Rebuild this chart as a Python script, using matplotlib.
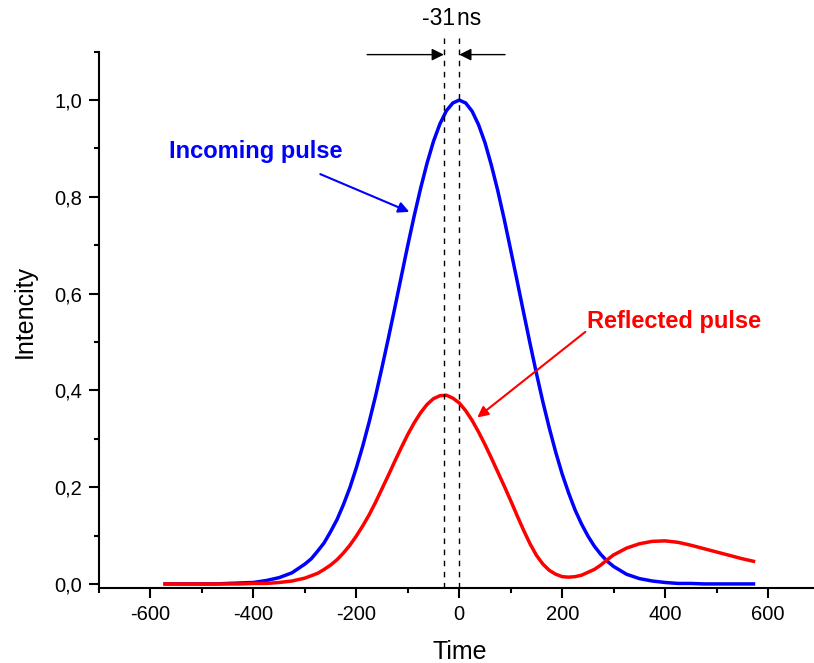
import numpy as np
import matplotlib
matplotlib.use('Agg')
import matplotlib.pyplot as plt
from matplotlib.ticker import MultipleLocator

plt.rcParams['font.family'] = ['Liberation Sans', 'DejaVu Sans']
plt.rcParams['axes.unicode_minus'] = False

# data (finer steps around the peaks)
time = ([-575, -550, -525, -500, -475, -450, -425, -400, -375, -350, -325]
        + [-300 + 12.5 * i for i in range(49)]
        + [325, 350, 375, 400, 425, 450, 475, 500, 525, 550, 575])

incoming = [0.000, 0.000, 0.000, 0.000, 0.000, 0.001, 0.002, 0.003, 0.007, 0.013, 0.023,
            0.041, 0.052, 0.068, 0.085, 0.108, 0.133, 0.164, 0.199, 0.240, 0.285,
            0.335, 0.389, 0.448, 0.509, 0.572, 0.636, 0.700, 0.761, 0.818, 0.870,
            0.915, 0.951, 0.978, 0.994, 1.000, 0.994, 0.977, 0.949, 0.912, 0.865,
            0.812, 0.753, 0.690, 0.626, 0.561, 0.497, 0.435, 0.376, 0.322, 0.272,
            0.227, 0.188, 0.153, 0.124, 0.099, 0.078, 0.061, 0.047, 0.036,
            0.020, 0.011, 0.006, 0.003, 0.001, 0.001, 0.000, 0.000, 0.000, 0.000, 0.000]

reflected = [0.000, 0.000, 0.000, 0.000, 0.000, 0.000, 0.000, 0.001, 0.001, 0.003, 0.006,
             0.012, 0.017, 0.022, 0.030, 0.039, 0.050, 0.064, 0.080, 0.099, 0.120,
             0.143, 0.169, 0.197, 0.225, 0.254, 0.282, 0.309, 0.333, 0.354, 0.371,
             0.383, 0.389, 0.390, 0.384, 0.374, 0.358, 0.338, 0.314, 0.288, 0.260,
             0.231, 0.202, 0.172, 0.141, 0.111, 0.083, 0.059, 0.041, 0.028, 0.020,
             0.015, 0.014, 0.015, 0.018, 0.024, 0.030, 0.039, 0.050, 0.060,
             0.074, 0.083, 0.088, 0.089, 0.086, 0.080, 0.073, 0.066, 0.059, 0.052, 0.046]

shift = -30          # reflected peak position
x_ticks = [-600, -400, -200, 0, 200, 400, 600]
y_ticks = [0.0, 0.2, 0.4, 0.6, 0.8, 1.0]
y_labels = ['0,0', '0,2', '0,4', '0,6', '0,8', '1,0']

fig = plt.figure(figsize=(8.14, 6.63), dpi=100)
ax = fig.add_axes([0.1216, 0.1127, 0.8852, 0.8093])

ax.plot(time, incoming, color='#0000ff', lw=2.5, solid_capstyle='butt')
ax.plot(time, reflected, color='#ff0000', lw=2.5, solid_capstyle='butt')

# dashed markers at the two peaks
for xv in [shift, 0]:
    ax.plot([xv, xv], [-0.009, 1.13], color='black', lw=1, ls=(0, (4, 4)), clip_on=False)

# the -31ns arrows
ax.annotate('', xy=(shift, 1.094), xytext=(-179, 1.094), annotation_clip=False,
            arrowprops=dict(arrowstyle='-|>', color='black', lw=1, mutation_scale=18,
                            shrinkA=0, shrinkB=0))
ax.annotate('', xy=(0, 1.094), xytext=(89, 1.094), annotation_clip=False,
            arrowprops=dict(arrowstyle='-|>', color='black', lw=1, mutation_scale=18,
                            shrinkA=0, shrinkB=0))
ax.text(-14, 1.169, '-31\u200ans', ha='center', va='center', fontsize=16.5, clip_on=False)

# curve labels
ax.text(-395, 0.893, 'Incoming pulse', color='#0000ff', fontsize=17, fontweight='bold',
        ha='center', va='center')
ax.annotate('', xy=(-97, 0.769), xytext=(-270, 0.847),
            arrowprops=dict(arrowstyle='-|>', color='#0000ff', lw=1.5, mutation_scale=16,
                            shrinkA=0, shrinkB=0))
ax.text(418, 0.542, 'Reflected pulse', color='#ff0000', fontsize=17, fontweight='bold',
        ha='center', va='center')
ax.annotate('', xy=(35, 0.344), xytext=(245, 0.521),
            arrowprops=dict(arrowstyle='-|>', color='#ff0000', lw=1.5, mutation_scale=16,
                            shrinkA=0, shrinkB=0))

ax.set_xlim(-700, 700)
ax.set_ylim(-0.009, 1.1)
ax.set_xticks(x_ticks)
ax.set_yticks(y_ticks)
ax.set_yticklabels(y_labels)
ax.xaxis.set_minor_locator(MultipleLocator(100))
ax.yaxis.set_minor_locator(MultipleLocator(0.1))
ax.tick_params(which='both', direction='out', width=1.5, labelsize=14.5, pad=5)
ax.tick_params(which='major', length=7)
ax.tick_params(which='minor', length=3.5)

for s in ['top', 'right']:
    ax.spines[s].set_visible(False)
for s in ['left', 'bottom']:
    ax.spines[s].set_linewidth(1.5)

ax.set_xlabel('Time', fontsize=18)
ax.set_ylabel('Intencity', fontsize=18)
ax.xaxis.set_label_coords(0.501, -0.096)
ax.yaxis.set_label_coords(-0.087, 0.516)

fig.savefig('out.png', dpi=100)
